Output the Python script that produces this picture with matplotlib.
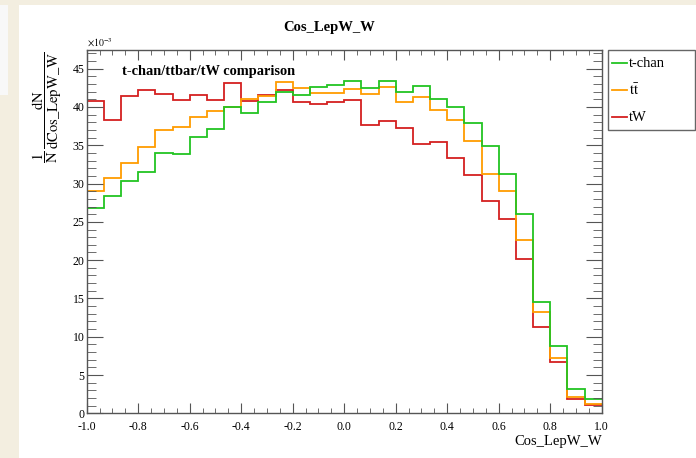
import numpy as np
import matplotlib
matplotlib.use('Agg')
import matplotlib.pyplot as plt
from matplotlib.patches import Rectangle
from matplotlib.lines import Line2D
from matplotlib.ticker import MultipleLocator, FuncFormatter

# ----------------------------------------------------------------------
# data (values in units of 1e-3, 30 bins from -1 to 1)
# ----------------------------------------------------------------------
bin_edges = np.linspace(-1.0, 1.0, 31)

tchan = [26.85, 28.38, 30.33, 31.47, 34.03, 33.82, 36.04, 37.17, 40.04, 39.21,
         40.61, 41.91, 41.61, 42.61, 42.87, 43.39, 42.43, 43.39, 41.96, 42.68,
         41.09, 40.04, 37.91, 34.91, 31.29, 26.07, 14.58, 8.74, 3.17, 1.87]

ttbar = [29.07, 30.77, 32.64, 34.77, 36.99, 37.39, 38.69, 39.52, 40.04, 41.09,
         41.48, 43.26, 42.43, 41.87, 41.83, 42.30, 41.74, 42.57, 40.69, 41.26,
         39.67, 38.26, 35.51, 31.29, 29.03, 22.63, 13.18, 7.18, 2.17, 1.19]

tw = [40.82, 38.34, 41.43, 42.22, 41.65, 40.95, 41.56, 40.95, 43.17, 40.82,
      41.60, 42.17, 40.61, 40.43, 40.65, 40.95, 37.60, 38.17, 37.30, 35.21,
      35.38, 33.29, 31.16, 27.72, 25.33, 20.19, 11.31, 6.70, 1.87, 1.10]

labels = ['t-chan', r'$\mathrm{t\bar{t}}$', 'tW']
colors = ['#22c422', '#ff9c00', '#d42020']

# ----------------------------------------------------------------------
# style
# ----------------------------------------------------------------------
plt.rcParams['font.family'] = ['Liberation Serif', 'DejaVu Serif']
plt.rcParams['mathtext.fontset'] = 'stix'

W, H = 696.0, 458.0
fig = plt.figure(figsize=(W / 100, H / 100), dpi=100)
fig.patch.set_facecolor('#f3eee0')
fig.add_artist(Rectangle((19 / W, 0), 1 - 19 / W, 1 - 5 / H, transform=fig.transFigure,
                         facecolor='white', edgecolor='none', zorder=0))
fig.add_artist(Rectangle((0, 1 - 95 / H), 8 / W, 90 / H, transform=fig.transFigure,
                         facecolor='#f8f8f8', edgecolor='none', zorder=0))

ax = fig.add_axes([86.7 / W, 1 - 413.3 / H, 515 / W, 363.3 / H])

# draw order: tW, ttbar, t-chan on top
ax.stairs(tw, bin_edges, baseline=None, color=colors[2], lw=1.3)
ax.stairs(ttbar, bin_edges, baseline=None, color=colors[1], lw=1.3)
ax.stairs(tchan, bin_edges, baseline=None, color=colors[0], lw=1.3)

ax.set_xlim(-1.0, 1.0)
ax.set_ylim(0, 47.44)

ax.xaxis.set_major_locator(MultipleLocator(0.2))
ax.xaxis.set_minor_locator(MultipleLocator(0.05))
ax.yaxis.set_major_locator(MultipleLocator(5))
ax.yaxis.set_minor_locator(MultipleLocator(1))
ax.xaxis.set_major_formatter(FuncFormatter(lambda v, p: f'{round(v, 1) + 0.0:.1f}'))

ax.tick_params(which='both', direction='in', top=True, right=True,
               color='#555555', labelsize=8.5, labelcolor='black')
ax.tick_params(axis='x', which='major', length=7.2, pad=5.5)
ax.tick_params(axis='x', which='minor', length=3.6)
ax.tick_params(axis='y', which='major', length=11.5, pad=1.5)
ax.tick_params(axis='y', which='minor', length=6.2)
for sp in ax.spines.values():
    sp.set_color('#555555')
    sp.set_linewidth(1.0)

# ----------------------------------------------------------------------
# texts
# ----------------------------------------------------------------------
fig.text(329 / W, 1 - 27 / H, 'Cos_LepW_W', ha='center', va='center',
         fontsize=10.5, fontweight='bold')
fig.text(87 / W, 1 - 49 / H, r'$\times10^{-3}$', ha='left', va='bottom', fontsize=7)
fig.text(121.7 / W, 1 - 71.7 / H, 't-chan/ttbar/tW comparison', ha='left', va='center',
         fontsize=10.4, fontweight='bold')
fig.text(602 / W, 1 - 441.7 / H, 'Cos_LepW_W', ha='right', va='center', fontsize=10.5)
fig.text(47 / W, 1 - 52 / H,
         r'$\dfrac{\mathrm{1}}{\mathrm{N}}\,\dfrac{\mathrm{dN}}{\mathrm{dCos\_LepW\_W}}$',
         rotation=90, ha='center', va='top', fontsize=10.5)

# ----------------------------------------------------------------------
# legend box (ROOT style, outside the frame)
# ----------------------------------------------------------------------
fig.add_artist(Rectangle((608 / W, 1 - 130 / H), 87 / W, 80 / H, transform=fig.transFigure,
                         fill=False, edgecolor='#666666', lw=1.0))
for lab, col, yy in zip(labels, colors, [63.3, 90.0, 117.3]):
    fig.add_artist(Line2D([611.7 / W, 626.7 / W], [1 - yy / H, 1 - yy / H],
                          transform=fig.transFigure, color=col, lw=1.3))
    fig.text(629 / W, 1 - yy / H, lab, ha='left', va='center', fontsize=10.5)

fig.savefig('out.png', dpi=100, facecolor=fig.get_facecolor())
